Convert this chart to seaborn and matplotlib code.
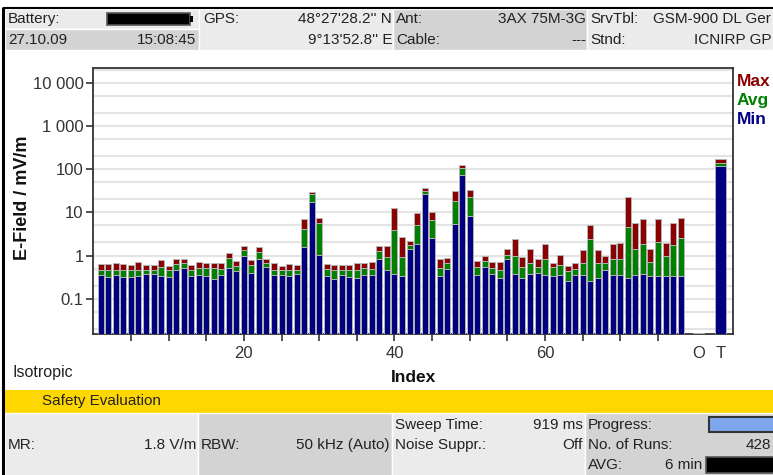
import numpy as np
import pandas as pd
import matplotlib
matplotlib.use("Agg")
import matplotlib.pyplot as plt
from matplotlib.patches import Rectangle
import seaborn as sns

# ---------------- data ----------------
labels = [str(i) for i in range(1, 79)] + ["O", "T"]
positions = list(range(1, 79)) + [80.4, 83.3]

min_vals = [0.36, 0.32, 0.36, 0.32, 0.32, 0.34, 0.37, 0.37, 0.34, 0.32,
            0.45, 0.51, 0.34, 0.36, 0.34, 0.29, 0.36, 0.51, 0.43, 0.98,
            0.40, 0.81, 0.54, 0.36, 0.36, 0.34, 0.38, 1.59, 17.5, 1.05,
            0.34, 0.29, 0.36, 0.32, 0.30, 0.36, 0.36, 0.81, 0.47, 0.38,
            0.34, 1.38, 1.86, 26.8, 2.52, 0.34, 0.48, 5.31, 73.7, 8.43,
            0.36, 0.55, 0.38, 0.30, 0.85, 0.38, 0.30, 0.38, 0.40, 0.36,
            0.34, 0.36, 0.26, 0.36, 0.36, 0.26, 0.30, 0.45, 0.36, 0.36,
            0.30, 0.36, 0.38, 0.34, 0.34, 0.34, 0.34, 0.33,
            0.0158, 121]
avg_vals = [0.47, 0.47, 0.47, 0.47, 0.47, 0.47, 0.47, 0.47, 0.54, 0.45,
            0.64, 0.68, 0.47, 0.51, 0.51, 0.51, 0.48, 0.88, 0.57, 1.35,
            0.60, 1.19, 0.68, 0.47, 0.47, 0.47, 0.47, 4.14, 26.3, 5.70,
            0.49, 0.45, 0.47, 0.47, 0.47, 0.51, 0.49, 1.28, 0.93, 3.93,
            0.93, 1.77, 4.95, 31.4, 6.69, 0.51, 0.68, 17.8, 105, 22.4,
            0.54, 0.73, 0.52, 0.47, 1.05, 0.97, 0.55, 0.68, 0.55, 0.84,
            0.54, 0.60, 0.43, 0.49, 0.68, 2.35, 0.68, 0.68, 0.84, 0.84,
            4.61, 1.43, 1.86, 0.71, 2.04, 0.97, 1.77, 2.56,
            0.0158, 140]
max_vals = [0.64, 0.64, 0.68, 0.64, 0.61, 0.71, 0.61, 0.61, 0.77, 0.57,
            0.85, 0.82, 0.61, 0.71, 0.68, 0.68, 0.68, 1.15, 0.73, 1.70,
            0.78, 1.59, 0.84, 0.68, 0.57, 0.64, 0.60, 7.06, 29.8, 7.45,
            0.63, 0.60, 0.60, 0.60, 0.68, 0.68, 0.71, 1.70, 1.70, 12.7,
            2.68, 2.15, 9.72, 37.5, 10.1, 0.81, 0.87, 31.4, 126, 33.7,
            0.73, 0.97, 0.71, 0.71, 1.38, 2.43, 0.92, 1.45, 0.81, 1.80,
            0.68, 1.05, 0.57, 0.68, 1.31, 4.95, 1.31, 0.97, 1.80, 1.96,
            22.4, 5.70, 7.06, 1.38, 7.06, 1.90, 5.70, 7.45,
            0.0158, 167]

ytick_vals = [0.1, 1, 10, 100, 1000, 10000]
ytick_labels = ["0.1", "1", "10", "100", "1 000", "10 000"]
ygrid_vals = [0.02, 0.05, 0.1, 0.2, 0.5, 1, 2, 5, 10, 20, 50, 100, 200, 500,
              1000, 2000, 5000, 10000, 20000]
xtick_vals = list(range(5, 80, 5))
xtick_shown = [20, 40, 60]
special_ticks = [80.4, 83.3]
special_labels = ["O", "T"]

df = pd.DataFrame({"pos": positions, "label": labels,
                   "Min": min_vals, "Avg": avg_vals, "Max": max_vals})
df_idx = df[~df["label"].isin(special_labels)]
df_sum = df[df["label"].isin(special_labels)]

# ---------------- style ----------------
sns.set_theme(style="white")
plt.rcParams["font.family"] = ["Liberation Sans", "DejaVu Sans"]

C_MAX = "#8b0000"
C_AVG = "#008000"
C_MIN = "#000080"
EDGE = "#b4b4b4"

W, H = 773, 475
fig = plt.figure(figsize=(W / 100, H / 100), dpi=100)
fig.patch.set_facecolor("white")

# background axes in pixel coordinates (screen frame, header, footer)
bg = fig.add_axes([0, 0, 1, 1], zorder=0)
bg.set_xlim(0, W)
bg.set_ylim(H, 0)
bg.axis("off")

LIGHT = "#ebebeb"
DARK = "#d3d3d3"

def cell(x0, y0, x1, y1, col):
    bg.add_patch(Rectangle((x0, y0), x1 - x0, y1 - y0, facecolor=col,
                           edgecolor="white", linewidth=1.0))

# header cells
cell(5, 9, 199, 29, LIGHT)
cell(5, 29, 199, 50, DARK)
cell(199, 9, 393, 50, LIGHT)
cell(393, 9, 587, 50, DARK)
cell(587, 9, 773, 50, LIGHT)
# black frame lines
bg.plot([3, 3], [7, 475], color="black", lw=2.2, solid_capstyle="butt")
bg.plot([3, 773], [7.5, 7.5], color="black", lw=1.5, solid_capstyle="butt")

hfs = 11
tk = dict(fontsize=hfs, color="#222222", va="center")
bg.text(8, 19, "Battery:", ha="left", **tk)
bg.add_patch(Rectangle((107, 13), 83, 12, facecolor="black",
                       edgecolor="#555555", linewidth=1.2))
bg.add_patch(Rectangle((190, 16), 3, 6, facecolor="black", edgecolor="none"))
bg.text(8, 40, "27.10.09", ha="left", **tk)
bg.text(196, 40, "15:08:45", ha="right", **tk)
bg.text(203, 19, "GPS:", ha="left", **tk)
bg.text(392, 19, "48°27'28.2'' N", ha="right", **tk)
bg.text(392, 40, "9°13'52.8'' E", ha="right", **tk)
bg.text(396, 19, "Ant:", ha="left", **tk)
bg.text(586, 19, "3AX 75M-3G", ha="right", **tk)
bg.text(396, 40, "Cable:", ha="left", **tk)
bg.text(586, 40, "---", ha="right", **tk)
bg.text(590, 19, "SrvTbl:", ha="left", **tk)
bg.text(771, 19, "GSM-900 DL Ger", ha="right", **tk)
bg.text(590, 40, "Stnd:", ha="left", **tk)
bg.text(771, 40, "ICNIRP GP", ha="right", **tk)

# footer
bg.add_patch(Rectangle((5, 390), W - 5, 23, facecolor="#ffd700",
                       edgecolor="none"))
bg.text(42, 401.5, "Safety Evaluation", ha="left", **tk)
cell(5, 413, 198, 476, LIGHT)
cell(198, 413, 392, 476, DARK)
cell(392, 413, 585, 476, LIGHT)
cell(585, 413, 774, 476, DARK)
bg.text(8, 445, "MR:", ha="left", **tk)
bg.text(196, 445, "1.8 V/m", ha="right", **tk)
bg.text(201, 445, "RBW:", ha="left", **tk)
bg.text(390, 445, "50 kHz (Auto)", ha="right", **tk)
bg.text(395, 425, "Sweep Time:", ha="left", **tk)
bg.text(583, 425, "919 ms", ha="right", **tk)
bg.text(395, 445, "Noise Suppr.:", ha="left", **tk)
bg.text(583, 445, "Off", ha="right", **tk)
bg.text(588, 425, "Progress:", ha="left", **tk)
bg.add_patch(Rectangle((709, 417), 66, 15, facecolor="#7ea7f0",
                       edgecolor="#333333", linewidth=1.5))
bg.text(588, 445, "No. of Runs:", ha="left", **tk)
bg.text(771, 445, "428", ha="right", **tk)
bg.text(588, 465, "AVG:", ha="left", **tk)
bg.text(702, 465, "6 min", ha="right", **tk)
bg.add_patch(Rectangle((706, 457), 70, 16, facecolor="black",
                       edgecolor="#555555", linewidth=1.2))

# labels outside the plot
bg.text(12, 373, "Isotropic", ha="left", fontsize=11.5, color="#222222",
        va="center")
bg.text(23, 198, "E-Field / mV/m", ha="center", va="center", rotation=90,
        fontsize=13, fontweight="bold", color="#111111")
bg.text(737, 81, "Max", ha="left", va="center", fontsize=12.5,
        fontweight="bold", color=C_MAX)
bg.text(737, 101, "Avg", ha="left", va="center", fontsize=12.5,
        fontweight="bold", color=C_AVG)
bg.text(737, 120, "Min", ha="left", va="center", fontsize=12.5,
        fontweight="bold", color=C_MIN)

# ---------------- main chart ----------------
ax = fig.add_axes([93.3 / W, 1 - 334 / H, (733.3 - 93.3) / W,
                   (334 - 68.3) / H], zorder=2)
ax.set_facecolor("white")
ax.set_yscale("log")

for col, c in (("Max", C_MAX), ("Avg", C_AVG), ("Min", C_MIN)):
    sns.barplot(data=df_idx, x="pos", y=col, native_scale=True, ax=ax,
                color=c, saturation=1, width=0.8, errorbar=None,
                edgecolor=EDGE, linewidth=0.7, zorder=3)
    sns.barplot(data=df_sum, x="pos", y=col, native_scale=True, ax=ax,
                color=c, saturation=1, width=0.5, errorbar=None,
                edgecolor=EDGE, linewidth=0.7, zorder=3)

ax.set_xlim(0, 85)
ax.set_ylim(0.01524, 21540)

# grid lines
for g in ygrid_vals:
    ax.axhline(g, color="#e4e4e4", lw=1.6, zorder=1)

ax.set_yticks(ytick_vals)
ax.set_yticklabels(ytick_labels)
ax.yaxis.set_minor_locator(matplotlib.ticker.NullLocator())
ax.set_xticks(xtick_vals)
ax.set_xticklabels([str(v) if v in xtick_shown else "" for v in xtick_vals])
ax.set_xticks(special_ticks, minor=True)
ax.set_xticklabels(special_labels, minor=True)

ax.tick_params(axis="both", which="major", direction="out", length=5,
               width=1.2, color="#333333", labelsize=12,
               labelcolor="#333333", bottom=True, left=True)
ax.tick_params(axis="y", which="major", pad=2)
ax.tick_params(axis="x", which="major", pad=4)
ax.tick_params(axis="x", which="minor", length=0, labelsize=12,
               labelcolor="#333333", pad=9)
for s in ax.spines.values():
    s.set_visible(True)
    s.set_color("#333333")
    s.set_linewidth(1.3)

ax.set_xlabel("Index", fontsize=12.5, fontweight="bold", color="#111111",
              labelpad=6)
ax.set_ylabel("")
ax.grid(False)

fig.savefig("out.png", dpi=100)
